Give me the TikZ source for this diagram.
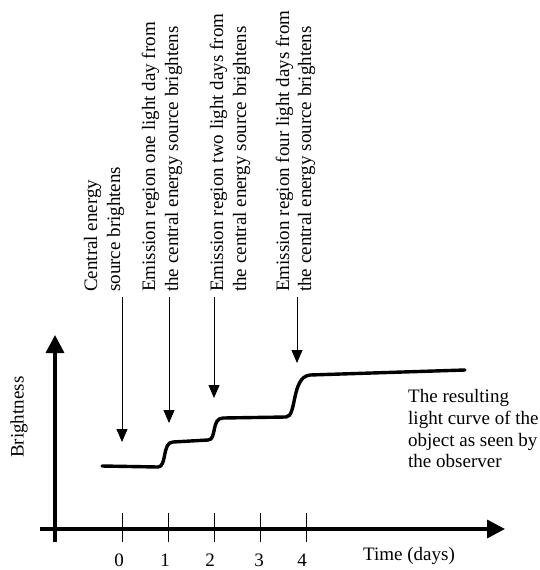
\documentclass[tikz,border=0pt]{standalone}
\usepackage{fontspec}
\setmainfont{Liberation Serif}
\usetikzlibrary{arrows.meta}
\begin{document}
\begin{tikzpicture}[x=1pt,y=-1pt,
  lbl/.style={inner sep=0pt,font=\fontsize{19}{21.7}\selectfont},
  vlbl/.style={lbl,rotate=90,anchor=base west},
  axis/.style={line width=3.4pt,-{Triangle[length=18pt,width=18pt]}},
  pointer/.style={line width=0.9pt,-{Triangle[length=13pt,width=11pt]}},
  tickline/.style={line width=0.9pt},
  curve/.style={line width=3.4pt,line cap=round,line join=round}]
\useasboundingbox (0,0) rectangle (540,570);

% axes
\coordinate (yb) at (55,542);
\coordinate (yt) at (55,335);
\coordinate (xl) at (40,529);
\coordinate (xr) at (505,529);
\draw[axis] (yb) -- (yt);
\draw[axis] (xl) -- (xr);

% ticks and day labels
\foreach \x/\lx/\d in {122/119/0,168/165/1,214/210/2,260/259/3,306/302/4}{
  \coordinate (t\d a) at (\x,513);
  \coordinate (t\d b) at (\x,542);
  \draw[tickline] (t\d a) -- (t\d b);
  \node[lbl,anchor=base] (d\d) at (\lx,566) {\d};
}

% axis titles
\node[lbl,rotate=90,anchor=base west] (bright) at (23.5,458) {Brightness};
\node[lbl,anchor=base west] (time) at (363,560) {Time (days)};

% light curve
\draw[curve] (102,466) -- (158,467)
  .. controls (167,467) and (162,442) .. (173,442) -- (208,440)
  .. controls (217,440) and (211,418) .. (223,418) -- (286,417)
  .. controls (297,417) and (291,377) .. (310,375) -- (465,370);

\node[lbl,anchor=north west,align=left] (res) at (408,389.5)
  {The resulting\\light curve of the\\object as seen by\\the observer};

% annotations, read bottom to top
\node[vlbl] (a1) at (97,292) {Central energy};
\node[vlbl] (a2) at (120,292) {source brightens};
\node[vlbl] (b1) at (155,292) {Emission region one light day from};
\node[vlbl] (b2) at (178,292) {the central energy source brightens};
\node[vlbl] (c1) at (223,292) {Emission region two light days from};
\node[vlbl] (c2) at (246,292) {the central energy source brightens};
\node[vlbl] (e1) at (289,292) {Emission region four light days from};
\node[vlbl] (e2) at (311,292) {the central energy source brightens};

% pointers onto the curve
\coordinate (p0s) at (122,297); \coordinate (p0e) at (122,442);
\coordinate (p1s) at (169,297); \coordinate (p1e) at (169,423);
\coordinate (p2s) at (214,297); \coordinate (p2e) at (214,398);
\coordinate (p4s) at (297,297); \coordinate (p4e) at (297,363);
\draw[pointer] (p0s) -- (p0e);
\draw[pointer] (p1s) -- (p1e);
\draw[pointer] (p2s) -- (p2e);
\draw[pointer] (p4s) -- (p4e);
\end{tikzpicture}
\end{document}
